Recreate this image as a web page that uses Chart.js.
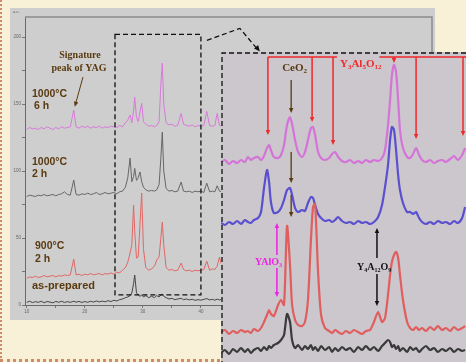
<!DOCTYPE html>
<html>
<head>
<meta charset="utf-8">
<script src="https://cdn.jsdelivr.net/npm/chart.js@4.4.1/dist/chart.umd.min.js"></script>
<style>
  html, body { margin: 0; padding: 0; }
  body { width: 466px; height: 362px; position: relative; overflow: hidden; background: #f8f0d7; }
  #edge { position: absolute; left: 0; top: 0; width: 464px; height: 359px;
          border-left: 2px dotted #cf8a66; border-bottom: 3px dotted #cf8a66; }
  #panel { position: absolute; left: 10px; top: 8px; width: 425px; height: 312px; background: #cecece; }
  #main { position: absolute; left: 0; top: 0; }
  #inset { position: absolute; left: 221px; top: 52px; }
</style>
</head>
<body>
<div id="edge"></div>
<div id="panel"></div>
<canvas id="main" width="466" height="362"></canvas>
<canvas id="inset" width="245" height="310"></canvas>
<script>
// ---- main pattern (2-theta, stacked intensity) ----
const mainTheta = [10,10.5,11,11.5,12,12.5,13,13.5,14,14.5,15,15.5,16,16.5,17,17.5,18.1,
  18.5,19,19.5,20,20.5,21,21.5,22,22.5,23,23.5,24,24.5,25,25.5,26,26.5,27,
  27.4,27.8,28.1,28.4,28.6,28.9,29.2,29.5,29.8,30.1,
  30.5,31,31.5,32,32.4,32.8,33.1,33.35,33.6,34,
  34.5,35,35.5,36,36.6,37,37.5,38,38.5,39,
  39.5,40,40.5,41,41.5,42,42.4,42.8,43.2,43.6,44];
const pink6h = [131,132.5,131.5,132,131,132.5,131.5,133,132,131,132.5,131.5,133,132,132.5,133,145.5,
  133,132,133.5,132.5,133.5,132,133,132.5,133.5,132,133,132.5,133.5,133,132.5,134,133,136,
  138,141.8,136,145,155,140,137,144,150.5,137,
  135,133.5,134,133,134,137,165,180.5,150,136,
  134.5,135,133.5,134,143,135,134,133.5,134.5,133,
  134,133.5,134,144.5,134,133.5,134,143,134,133.5,134];
const gray2h = [81,82,81.5,81,82,81.5,82.5,81.5,82,82.5,81.5,82.5,83,84.5,82.5,82,93.3,
  82.5,82,83,82.5,83.5,82.5,83,84,82.5,83,84,83,83.5,84,83,84.5,85,88,
  95,109.7,92,96,102,93,95,99.3,92,88,
  86,85,85.5,85,86,90,110,129,100,87,
  85,85.5,84.5,85,91.8,85,84.5,85,84,85,
  84.5,85,84,91,84.5,85,84.5,89,85,84.5,85];
const red900 = [20,21,20.5,21.5,20.5,21,22,21,21.5,22,21,22,21.5,22.5,22,22.5,34.3,
  22.5,23,22,23,22.5,23.5,22.5,23,23.5,22.5,23.5,23,24,23,24.5,24,26,28,
  32,38.8,45,74.6,55,35,36,60,83.6,42,
  28,26,27,29,33.6,36,50,61.9,45,28,
  26,26.5,25.5,26,31.3,26.5,25.5,26,25,26,
  25.5,26,26.5,32.8,26,27,26.5,29,35.8,29,27];
const asPrep = [2,2.8,1.8,2.5,2,2.8,1.7,2.6,2.2,1.6,2.7,2,2.8,1.9,2.5,2,2.8,
  2.1,2.7,1.9,2.6,2,2.8,2.2,3,2.3,2.9,2.4,3.2,2.6,3.5,3,4,4.5,5.5,
  6,7,9,16,22.4,9,7.5,6.5,7.5,6,
  7,5.5,6.5,5.5,7,6,7.5,8,6.5,5.5,
  4.5,5,4,4.5,5,4,4.5,3.8,4.3,3.5,
  4,3.6,4.2,4.8,3.8,4.2,3.6,4.4,3.8,4.2,3.9];
const xTicks = [10,15,20,25,30,35,40,45,50,55,60,65,70,75];
const yTicks = [0,25,50,75,100,125,150,175,200];
const boxTheta = [25.2, 40];
const boxLevel = [7.5, 202];
const yagSignature = [18.1, 148];

// ---- zoomed inset ----
const insetTheta = [25.60,25.77,25.95,26.12,26.30,26.47,26.64,26.77,26.90,27.03,
  27.21,27.34,27.47,27.60,27.69,27.77,27.90,28.08,28.21,28.34,
  28.47,28.60,28.69,28.82,28.95,29.12,29.25,29.38,29.51,29.60,
  29.69,29.82,29.95,30.12,30.30,30.43,30.56,30.69,30.86,31.03,
  31.21,31.38,31.56,31.73,31.90,32.08,32.25,32.43,32.60,32.73,
  32.86,32.95,33.03,33.12,33.21,33.30,33.38,33.51,33.69,33.82,
  33.95,34.08,34.21,34.34,34.51,34.69,34.86,35.03,35.21,35.38,
  35.56,35.73,35.90,36.08,36.21];
const insetPink = [200,202,198,201,199,202,200,205,202,204,
  205,202,206,214,217,212,205,204,207,217,
  237,245,238,222,210,205,210,222,234,235,
  227,210,204,202,204,208,210,205,201,200,
  202,199,201,199,202,200,202,201,204,212,
  237,262,287,297,290,262,232,214,205,204,
  208,214,207,202,200,202,199,201,202,200,
  203,206,202,207,214];
const insetBlue = [139,137,140,138,141,138,142,140,139,142,
  144,150,174,192,180,160,149,150,154,162,
  172,174,167,154,150,152,151,159,165,164,
  157,148,144,141,142,140,142,145,141,139,
  140,138,141,139,140,138,140,145,157,175,
  197,222,235,232,212,187,172,159,150,150,
  148,150,144,140,138,140,138,141,139,140,
  138,141,139,144,155];
const insetRed = [30,32,28,31,29,32,30,31,29,33,
  31,34,40,47,52,48,46,57,62,57,
  136,97,57,42,37,36,40,62,122,155,
  158,90,47,34,31,29,32,30,28,31,
  29,32,30,28,31,32,40,50,40,44,
  67,87,100,107,110,104,87,62,40,34,
  32,35,32,34,31,35,32,36,32,34,
  31,35,32,34,36];
const insetBlack = [9,12,8,13,10,14,10,13,9,12,
  14,11,15,12,16,14,17,19,22,27,
  48,40,22,14,17,12,16,13,17,12,
  15,11,16,12,15,10,14,11,15,12,
  14,10,15,12,16,12,15,11,16,19,
  22,20,15,17,13,16,11,14,10,15,
  12,14,10,13,16,12,14,10,13,11,
  14,10,13,11,12];
const yagTheta = [27.64, 29.56, 30.47, 33.12, 34.08, 36.12];
const yagTip = [227, 240, 217, 299, 223, 226];
const ceTheta = 28.65;
const yalTheta = 28.03;
const y4Theta = 32.38;

const BROWN = '#5a3a10';
const SERIF = '"Liberation Serif", "Times New Roman", serif';
const SANS = '"Liberation Sans", Arial, sans-serif';

function pts(xs, ys) { return xs.map((t, i) => ({ x: t, y: ys[i] })); }

function head(ctx, x, y, ang, len, color) {
  ctx.fillStyle = color;
  ctx.beginPath();
  ctx.moveTo(x, y);
  ctx.lineTo(x - len * Math.cos(ang) + len * 0.45 * Math.sin(ang), y - len * Math.sin(ang) - len * 0.45 * Math.cos(ang));
  ctx.lineTo(x - len * Math.cos(ang) - len * 0.45 * Math.sin(ang), y - len * Math.sin(ang) + len * 0.45 * Math.cos(ang));
  ctx.closePath();
  ctx.fill();
}
function arrow(ctx, x1, y1, x2, y2, color, w, len) {
  const ang = Math.atan2(y2 - y1, x2 - x1);
  ctx.strokeStyle = color; ctx.lineWidth = w;
  ctx.beginPath(); ctx.moveTo(x1, y1);
  ctx.lineTo(x2 - Math.cos(ang) * len * 0.6, y2 - Math.sin(ang) * len * 0.6); ctx.stroke();
  head(ctx, x2, y2, ang, len, color);
}
function rich(ctx, parts, x, y, size, color) {
  ctx.fillStyle = color; ctx.textAlign = 'left'; ctx.textBaseline = 'alphabetic';
  let cx = x;
  parts.forEach(([t, sub]) => {
    ctx.font = 'bold ' + (sub ? Math.round(size * 0.62) : size) + 'px ' + SERIF;
    ctx.fillText(t, cx, sub ? y + size * 0.22 : y);
    cx += ctx.measureText(t).width;
  });
  return cx;
}

const mainDecor = {
  id: 'mainDecor',
  afterDraw(chart) {
    const { ctx, chartArea: a, scales: { x, y } } = chart;
    ctx.save();
    ctx.strokeStyle = '#8c8c8c'; ctx.lineWidth = 1.5;
    ctx.beginPath(); ctx.moveTo(a.left, a.top); ctx.lineTo(a.right, a.top); ctx.lineTo(a.right, a.bottom); ctx.stroke();

    ctx.font = '4px ' + SANS; ctx.fillStyle = '#666';
    ctx.fillText('a.u.', 13, 13);

    // zoom window + connector
    const bx0 = x.getPixelForValue(boxTheta[0]), bx1 = x.getPixelForValue(boxTheta[1]);
    const by0 = y.getPixelForValue(boxLevel[1]), by1 = y.getPixelForValue(boxLevel[0]);
    ctx.setLineDash([5, 3]); ctx.strokeStyle = '#111'; ctx.lineWidth = 1.3;
    ctx.strokeRect(bx0, by0, bx1 - bx0, by1 - by0);
    ctx.beginPath(); ctx.moveTo(bx1 + 6, by0 + 6); ctx.lineTo(bx1 + 39, by0 - 6); ctx.lineTo(bx1 + 55, by0 + 13); ctx.stroke();
    ctx.setLineDash([]);
    head(ctx, bx1 + 59, by0 + 17, Math.atan2(19, 16), 6, '#111');

    // labels
    ctx.fillStyle = BROWN; ctx.textAlign = 'center';
    ctx.font = 'bold 10px ' + SERIF;
    ctx.fillText('Signature', 80, 58);
    ctx.fillText('peak of YAG', 79, 71);
    arrow(ctx, 83, 77, x.getPixelForValue(yagSignature[0]) + 1, y.getPixelForValue(yagSignature[1]), BROWN, 1, 5);

    ctx.fillStyle = BROWN; ctx.textAlign = 'left';
    ctx.font = 'bold 10.5px ' + SANS;
    ctx.fillText('1000\u00b0C', 32, 97);
    ctx.fillText('6 h', 34, 109);
    ctx.fillText('1000\u00b0C', 32, 165);
    ctx.fillText('2 h', 32, 177);
    ctx.fillText('900\u00b0C', 35, 249);
    ctx.fillText('2 h', 35, 262);
    ctx.font = 'bold 11px ' + SANS;
    ctx.fillText('as-prepared', 32, 289);
    ctx.restore();
  }
};

new Chart(document.getElementById('main'), {
  type: 'line',
  data: {
    datasets: [
      { label: '1000°C 6 h', data: pts(mainTheta, pink6h), borderColor: '#d878da' },
      { label: '1000°C 2 h', data: pts(mainTheta, gray2h), borderColor: '#666666' },
      { label: '900°C 2 h', data: pts(mainTheta, red900), borderColor: '#e06666' },
      { label: 'as-prepared', data: pts(mainTheta, asPrep), borderColor: '#444444' }
    ]
  },
  options: {
    responsive: false, animation: false,
    layout: { padding: { left: 10, right: 34, top: 17, bottom: 42 } },
    plugins: { legend: { display: false }, tooltip: { enabled: false } },
    elements: { point: { radius: 0 }, line: { borderWidth: 1, tension: 0 } },
    scales: {
      x: {
        type: 'linear', min: 9.7, max: 79.8,
        afterBuildTicks: s => { s.ticks = xTicks.map(v => ({ value: v })); },
        afterFit: s => { s.height = 15; },
        ticks: { autoSkip: false, maxRotation: 0, padding: 1, color: '#666', font: { size: 4.5 },
                 callback: v => (v % 10 === 0 ? v : '') },
        grid: { drawOnChartArea: false, tickLength: 3, color: '#777' },
        border: { color: '#6a6a6a', width: 1 }
      },
      y: {
        min: 0, max: 215,
        afterBuildTicks: s => { s.ticks = yTicks.map(v => ({ value: v })); },
        afterFit: s => { s.width = 15; },
        ticks: { autoSkip: false, padding: 1, color: '#666', font: { size: 4.5 },
                 callback: v => (v % 50 === 0 ? v : '') },
        grid: { drawOnChartArea: false, tickLength: 3, color: '#777' },
        border: { color: '#6a6a6a', width: 1 }
      }
    }
  },
  plugins: [mainDecor]
});

const insetDecor = {
  id: 'insetDecor',
  beforeDraw(chart) {
    const ctx = chart.ctx;
    ctx.save(); ctx.fillStyle = '#cbc7cd'; ctx.fillRect(0, 0, chart.width, chart.height); ctx.restore();
  },
  afterDraw(chart) {
    const { ctx, scales: { x, y } } = chart;
    ctx.save();
    ctx.setLineDash([5, 3]); ctx.strokeStyle = '#111'; ctx.lineWidth = 1.3;
    ctx.beginPath(); ctx.moveTo(chart.width, 1); ctx.lineTo(1, 1); ctx.lineTo(1, chart.height); ctx.stroke();
    ctx.setLineDash([]);

    // Y3Al5O12 markers
    const RED = '#f0282a';
    const top = y.getPixelForValue(305);
    const labX = x.getPixelForValue(30.77);
    ctx.strokeStyle = RED; ctx.lineWidth = 1.5;
    ctx.beginPath(); ctx.moveTo(x.getPixelForValue(yagTheta[0]), top); ctx.lineTo(labX - 3, top); ctx.stroke();
    const labEnd = rich(ctx, [['Y', 0], ['3', 1], ['Al', 0], ['5', 1], ['O', 0], ['12', 1]], labX, top + 10, 11, RED);
    ctx.strokeStyle = RED; ctx.lineWidth = 1.5;
    ctx.beginPath(); ctx.moveTo(labEnd - 2, top); ctx.lineTo(chart.width, top); ctx.stroke();
    yagTheta.forEach((t, i) => arrow(ctx, x.getPixelForValue(t), top, x.getPixelForValue(t), y.getPixelForValue(yagTip[i]), RED, 1.5, 5));

    // CeO2
    const cx = x.getPixelForValue(ceTheta);
    rich(ctx, [['CeO', 0], ['2', 1]], cx - 9, y.getPixelForValue(291), 11, BROWN);
    arrow(ctx, cx, y.getPixelForValue(282), cx, y.getPixelForValue(249), BROWN, 1.3, 5);
    arrow(ctx, cx, y.getPixelForValue(210), cx, y.getPixelForValue(179), BROWN, 1.3, 5);
    arrow(ctx, cx, y.getPixelForValue(167), cx, y.getPixelForValue(145), BROWN, 1.3, 5);

    // YAlO3
    const MAG = '#f020e6';
    const mx = x.getPixelForValue(yalTheta);
    arrow(ctx, mx, y.getPixelForValue(107), mx, y.getPixelForValue(139), MAG, 1.5, 5);
    arrow(ctx, mx, y.getPixelForValue(94), mx, y.getPixelForValue(65), MAG, 1.5, 5);
    rich(ctx, [['YAlO', 0], ['3', 1]], mx - 22, y.getPixelForValue(97), 10, MAG);

    // Y4A12O9
    const kx = x.getPixelForValue(y4Theta);
    arrow(ctx, kx, y.getPixelForValue(104), kx, y.getPixelForValue(134), '#111', 1.5, 5);
    arrow(ctx, kx, y.getPixelForValue(88), kx, y.getPixelForValue(56), '#111', 1.5, 5);
    rich(ctx, [['Y', 0], ['4', 1], ['A', 0], ['12', 1], ['O', 0], ['9', 1]], kx - 20, y.getPixelForValue(92), 10, '#111');
    ctx.restore();
  }
};

new Chart(document.getElementById('inset'), {
  type: 'line',
  data: {
    datasets: [
      { label: 'as-prepared', data: pts(insetTheta, insetBlack), borderColor: '#3a3a3a' },
      { label: '900°C 2 h', data: pts(insetTheta, insetRed), borderColor: '#e05e5e' },
      { label: '1000°C 2 h', data: pts(insetTheta, insetBlue), borderColor: '#5a4fcf' },
      { label: '1000°C 6 h', data: pts(insetTheta, insetPink), borderColor: '#d474d8' }
    ]
  },
  options: {
    responsive: false, animation: false,
    layout: { padding: 0 },
    plugins: { legend: { display: false }, tooltip: { enabled: false } },
    elements: { point: { radius: 0 }, line: { borderWidth: 2.2, tension: 0.25 } },
    scales: {
      x: { type: 'linear', display: false, min: 25.6, max: 36.25 },
      y: { display: false, min: 0, max: 310 }
    }
  },
  plugins: [insetDecor]
});
</script>
</body>
</html>
